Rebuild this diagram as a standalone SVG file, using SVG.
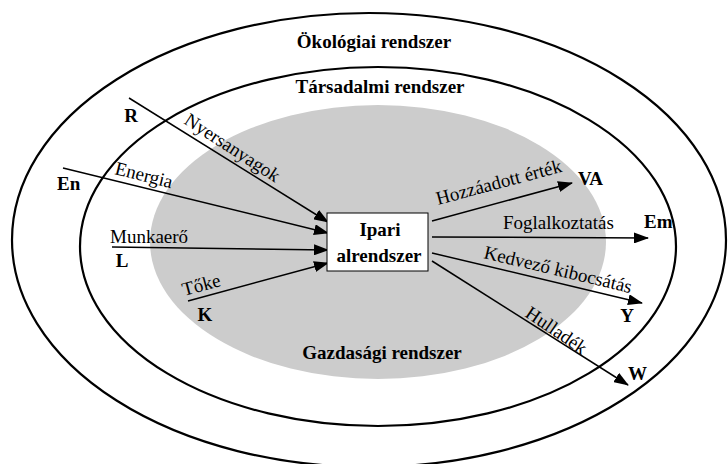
<svg xmlns="http://www.w3.org/2000/svg" width="728" height="464" viewBox="0 0 728 464">
<style>
.ring{fill:none;stroke:#000;stroke-width:2.2}
.conn line{stroke:#000;stroke-width:1.5;marker-end:url(#ah)}
.t{font-family:"Liberation Serif","Times New Roman",serif;fill:#000}
.b{font-weight:bold;font-size:19px}
.f{font-size:19px}
.m{text-anchor:middle}
</style>
<defs>
<marker id="ah" markerUnits="userSpaceOnUse" markerWidth="15" markerHeight="11" refX="14" refY="5.5" orient="auto">
<path d="M0,0 L15,5.5 L0,11 z" fill="#000"/>
</marker>
</defs>
<rect width="728" height="464" fill="#fff"/>
<g id="ecological">
<ellipse class="ring" cx="369" cy="240" rx="357" ry="227"/>
<text class="t b m" x="374" y="48">Ökológiai rendszer</text>
</g>
<g id="social">
<ellipse class="ring" cx="378" cy="246.5" rx="298" ry="179.5"/>
<text class="t b m" x="380" y="93">Társadalmi rendszer</text>
</g>
<g id="economic">
<ellipse cx="378" cy="242" rx="228" ry="137" fill="#cccccc"/>
<text class="t b m" x="382" y="359">Gazdasági rendszer</text>
</g>
<g id="connectors" class="conn">
<line x1="129" y1="98" x2="328" y2="222"/>
<line x1="63" y1="168" x2="328" y2="233"/>
<line x1="112" y1="247" x2="328" y2="250"/>
<line x1="188" y1="301" x2="328" y2="263"/>
<line x1="432" y1="221" x2="572" y2="183"/>
<line x1="432" y1="237" x2="648" y2="238"/>
<line x1="432" y1="253" x2="642" y2="303"/>
<line x1="432" y1="261" x2="628" y2="385"/>
</g>
<g id="industrial">
<rect x="327" y="213" width="101" height="58" fill="#fff" stroke="#000" stroke-width="1"/>
<text class="t b m" x="380" y="236">Ipari</text>
<text class="t b m" x="379" y="262">alrendszer</text>
</g>
<g id="labels">
<text class="t b m" x="131" y="122">R</text>
<text class="t f" transform="translate(183,123) rotate(33)">Nyersanyagok</text>
<text class="t b" x="57" y="190">En</text>
<text class="t f" transform="translate(114,174) rotate(14)">Energia</text>
<text class="t f" x="110" y="243">Munkaerő</text>
<text class="t b m" x="122" y="267">L</text>
<text class="t f" transform="translate(184,296) rotate(-15)">Tőke</text>
<text class="t b m" x="205" y="321">K</text>
<text class="t f" transform="translate(438,205) rotate(-15)">Hozzáadott érték</text>
<text class="t b" x="578" y="185">VA</text>
<text class="t f" x="503" y="229">Foglalkoztatás</text>
<text class="t b" x="644" y="228">Em</text>
<text class="t f" transform="translate(483,258) rotate(13.4)">Kedvező kibocsátás</text>
<text class="t b m" x="627" y="322">Y</text>
<text class="t f" transform="translate(524,316) rotate(34)">Hulladék</text>
<text class="t b" x="628" y="380">W</text>
</g>
</svg>
